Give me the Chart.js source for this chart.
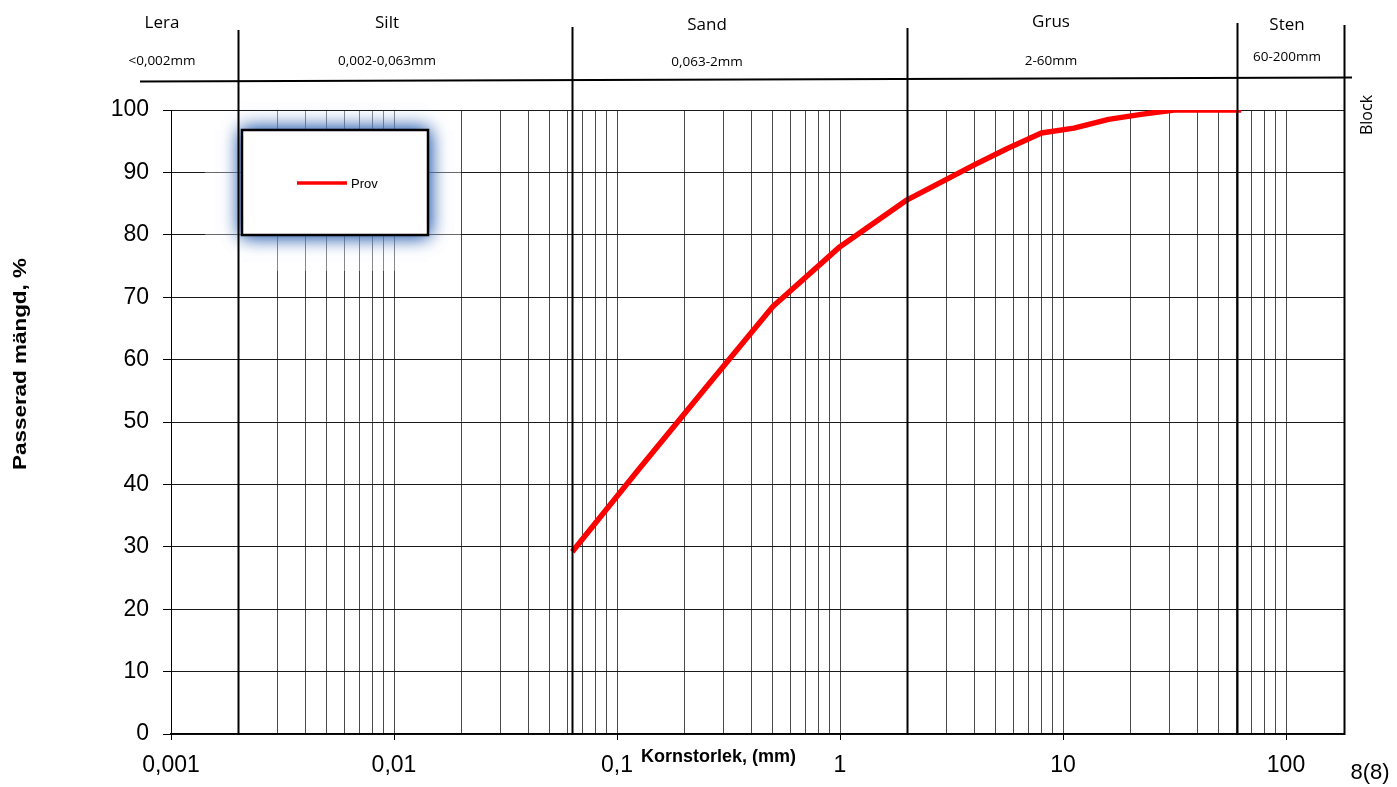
<!DOCTYPE html>
<html lang="sv">
<head>
<meta charset="utf-8">
<title>Kornstorleksfördelning</title>
<script src="https://cdn.jsdelivr.net/npm/chart.js@4.4.1/dist/chart.umd.min.js"></script>
<style>
    html, body { margin: 0; padding: 0; background: #fff; }
    #wrap { width: 1397px; height: 787px; }
</style>
</head>
<body>
<div id="wrap"><canvas id="siktChart" width="1397" height="787"></canvas></div>
<script>
// ========== DATA ==========

// Siktkurva: kornstorlek (mm) och passerad mängd (%)
const siktar = [0.063, 0.125, 0.25, 0.5, 1, 2, 4, 5.6, 8, 11.2, 16, 22.4, 31.5, 45, 63];
const passerat = [29.2, 42.4, 55.5, 68.5, 78.1, 85.6, 91.2, 93.8, 96.3, 97.1, 98.5, 99.3, 100, 100, 100];
const serieNamn = 'Prov';

// Axlar
const dekader = [0.001, 0.01, 0.1, 1, 10, 100];
const dekadEtiketter = ['0,001', '0,01', '0,1', '1', '10', '100'];
const xMin = 0.001;
const xMax = 182;
const yMin = 0;
const yMax = 100;
const ySteg = 10;

// Fraktionsindelning i huvudet
const fraktioner = ['Lera', 'Silt', 'Sand', 'Grus', 'Sten'];
const fraktionIntervall = ['<0,002mm', '0,002-0,063mm', '0,063-2mm', '2-60mm', '60-200mm'];
const fraktionGranser = [0.002, 0.063, 2, 60];

const yTitel = 'Passerad mängd, %';
const xTitel = 'Kornstorlek, (mm)';
const sidText = '8(8)';

// ========== HJÄLP ==========

// Rutnät: 1..9 i varje dekad upp till 100
const rutnat = [];
dekader.forEach(d => {
    for (let m = 1; m <= 9; m++) {
        const v = parseFloat((d * m).toPrecision(3));
        if (v <= 100) rutnat.push(v);
    }
});

function arDekad(v) {
    return dekader.findIndex(d => Math.abs(v - d) / d < 1e-6);
}

const sans = '"Liberation Sans", Arial, sans-serif';
const rubrikFont = '"Open Sans", "DejaVu Sans", sans-serif';

// ========== PLUGIN FÖR HUVUD, LEGEND OCH TITLAR ==========
const siktDekor = {
    id: 'siktDekor',
    beforeDraw(chart) {
        const ctx = chart.ctx;
        ctx.save();
        ctx.fillStyle = '#fff';
        ctx.fillRect(0, 0, chart.width, chart.height);
        ctx.restore();
    },
    afterDraw(chart) {
        const ctx = chart.ctx;
        const a = chart.chartArea;
        const x = chart.scales.x;

        ctx.save();

        // ljus yta bakom legenden
        ctx.fillStyle = 'rgba(255,255,255,0.35)';
        ctx.fillRect(205, a.top + 1, 256, 160);

        // legend med blå glöd
        const lb = { x: 242, y: 130, w: 186, h: 105 };
        ctx.save();
        ctx.shadowColor = 'rgba(55,105,180,1)';
        ctx.shadowBlur = 18;
        ctx.fillStyle = '#fff';
        ctx.fillRect(lb.x, lb.y, lb.w, lb.h);
        ctx.fillRect(lb.x, lb.y, lb.w, lb.h);
        ctx.restore();
        ctx.strokeStyle = '#000';
        ctx.lineWidth = 2.5;
        ctx.strokeRect(lb.x, lb.y, lb.w, lb.h);
        ctx.strokeStyle = '#ff0000';
        ctx.lineWidth = 3.5;
        ctx.beginPath();
        ctx.moveTo(297, 183);
        ctx.lineTo(347, 183);
        ctx.stroke();
        ctx.fillStyle = '#000';
        ctx.font = '13px ' + sans;
        ctx.textAlign = 'left';
        ctx.textBaseline = 'middle';
        ctx.fillText(serieNamn, 351, 184);

        // fraktionsgränser (tjocka linjer)
        const toppar = [30, 27, 28, 23];
        ctx.strokeStyle = '#000';
        ctx.lineWidth = 2;
        fraktionGranser.forEach((g, i) => {
            const px = Math.round(x.getPixelForValue(g)) + 0.5;
            ctx.beginPath();
            ctx.moveTo(px, toppar[i]);
            ctx.lineTo(px, a.bottom + 1);
            ctx.stroke();
        });
        // högerkant (Block)
        ctx.beginPath();
        ctx.moveTo(a.right + 0.5, 25);
        ctx.lineTo(a.right + 0.5, a.bottom + 1);
        ctx.stroke();

        // horisontell huvudlinje
        ctx.beginPath();
        ctx.moveTo(140, 81.5);
        ctx.lineTo(1352, 77.5);
        ctx.stroke();

        // fraktionstexter
        const rubrikX = [162, 387, 707, 1051, 1287];
        const rubrikY = [23, 23, 25, 22, 25];
        const intervallY = [61, 61, 62, 61, 57];
        ctx.fillStyle = '#000';
        ctx.textAlign = 'center';
        ctx.textBaseline = 'middle';
        fraktioner.forEach((f, i) => {
            ctx.font = '17px ' + rubrikFont;
            ctx.fillText(f, rubrikX[i], rubrikY[i]);
            ctx.font = '13.5px ' + rubrikFont;
            ctx.fillText(fraktionIntervall[i], rubrikX[i], intervallY[i]);
        });

        // Block (roterad)
        ctx.save();
        ctx.translate(1367, 115);
        ctx.rotate(-Math.PI / 2);
        ctx.font = '16px ' + rubrikFont;
        ctx.fillText('Block', 0, 0);
        ctx.restore();

        // y-titel, utdragen i längd
        ctx.save();
        ctx.font = 'bold 18px ' + sans;
        const yw = ctx.measureText(yTitel).width;
        ctx.translate(21, 364);
        ctx.rotate(-Math.PI / 2);
        ctx.scale(212 / yw, 1);
        ctx.fillText(yTitel, 0, 0);
        ctx.restore();

        // x-titel
        ctx.font = 'bold 18px ' + sans;
        ctx.textAlign = 'left';
        ctx.fillText(xTitel, 641, 757);

        // sidnummer
        ctx.font = '22px ' + sans;
        ctx.textAlign = 'center';
        ctx.fillText(sidText, 1370, 773);

        ctx.restore();
    }
};

// ========== DIAGRAM ==========
function ritaSiktkurva() {
    const ctx = document.getElementById('siktChart').getContext('2d');

    const punkter = siktar.map((s, i) => ({ x: s, y: passerat[i] }));

    return new Chart(ctx, {
        type: 'line',
        data: {
            datasets: [{
                label: serieNamn,
                data: punkter,
                borderColor: '#ff0000',
                borderWidth: 5.5,
                pointRadius: 0,
                tension: 0,
                fill: false,
                borderJoinStyle: 'round'
            }]
        },
        options: {
            responsive: false,
            animation: false,
            devicePixelRatio: 1,
            layout: {
                padding: { left: 0, top: 110, right: 53, bottom: 0 }
            },
            plugins: {
                legend: { display: false },
                tooltip: { enabled: false }
            },
            scales: {
                x: {
                    type: 'logarithmic',
                    min: xMin,
                    max: xMax,
                    afterBuildTicks: axis => {
                        axis.ticks = rutnat.map(v => ({ value: v }));
                    },
                    afterFit: axis => { axis.height = 53; },
                    grid: {
                        color: '#4a4a4a',
                        lineWidth: 1,
                        tickLength: 6,
                        tickColor: c => (arDekad(c.tick.value) >= 0 ? '#000' : 'rgba(0,0,0,0)')
                    },
                    border: { color: '#000', width: 1.5 },
                    ticks: {
                        autoSkip: false,
                        maxRotation: 0,
                        padding: 12,
                        color: '#000',
                        font: { family: sans, size: 23 },
                        callback: v => {
                            const i = arDekad(v);
                            return i >= 0 ? dekadEtiketter[i] : '';
                        }
                    }
                },
                y: {
                    min: yMin,
                    max: yMax,
                    afterFit: axis => { axis.width = 171; },
                    grid: {
                        color: '#1a1a1a',
                        lineWidth: 1,
                        tickLength: 8,
                        tickColor: '#000'
                    },
                    border: { color: '#000', width: 1 },
                    ticks: {
                        stepSize: ySteg,
                        padding: 14,
                        color: '#000',
                        font: { family: sans, size: 23 }
                    }
                }
            }
        },
        plugins: [siktDekor]
    });
}

ritaSiktkurva();
</script>
</body>
</html>
